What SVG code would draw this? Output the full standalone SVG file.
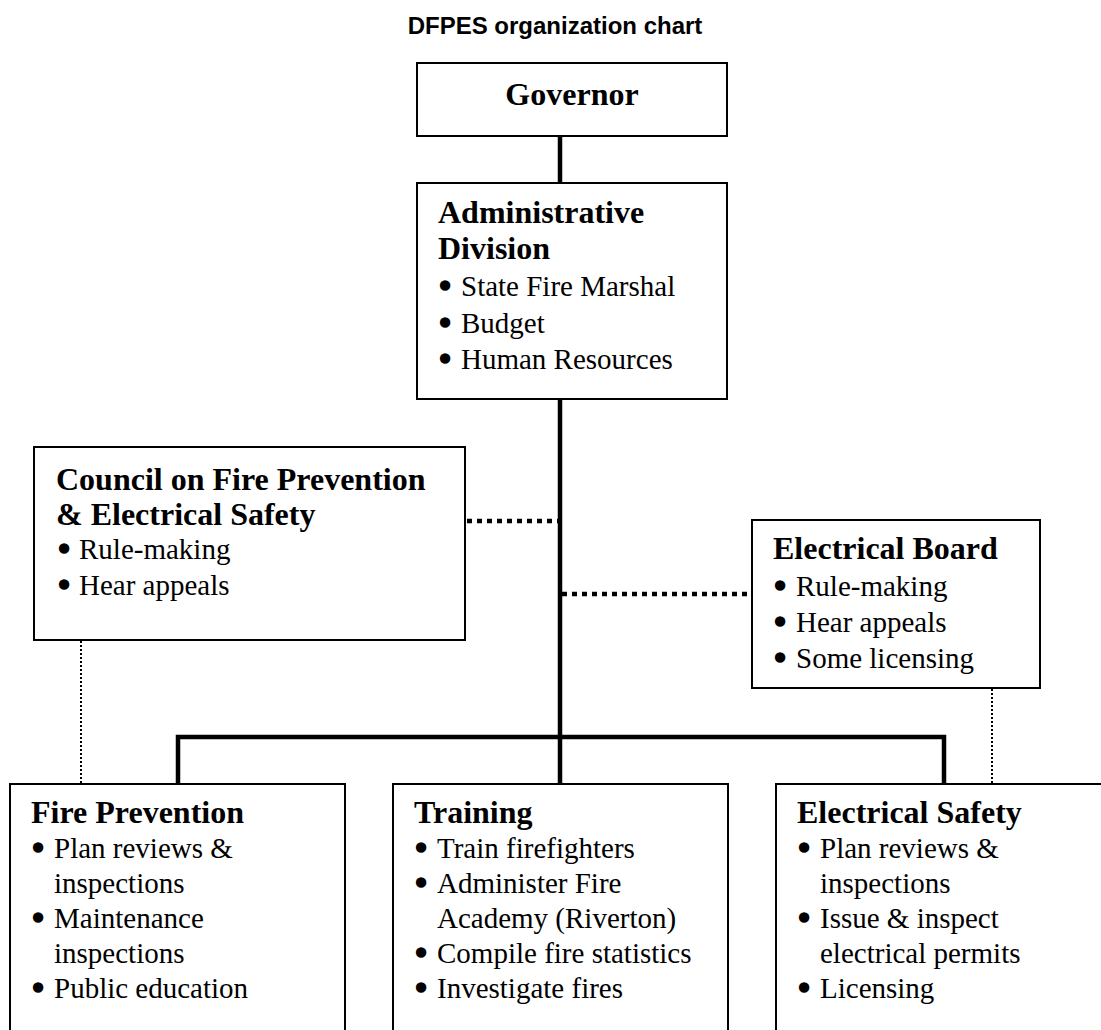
<svg xmlns="http://www.w3.org/2000/svg" width="1101" height="1030" viewBox="0 0 1101 1030">
<style>
.box{fill:#fff;stroke:#000;stroke-width:2}
.h{font-family:"Liberation Serif","Times New Roman",serif;font-weight:bold;font-size:32px;fill:#000}
.t{font-family:"Liberation Serif","Times New Roman",serif;font-size:29px;fill:#000}
.b{stroke:#000;stroke-width:3.5;stroke-linejoin:round}
.solid{stroke:#000;stroke-width:4.5;fill:none}
.dot{stroke:#000;stroke-width:4.5;stroke-dasharray:5 5;fill:none}
.thin{stroke:#000;stroke-width:2;stroke-dasharray:2 2;fill:none}
.title{font-family:"Liberation Sans",Arial,sans-serif;font-weight:bold;font-size:24px;fill:#000}
</style>
<rect width="1101" height="1030" fill="#fff"/>
<text class="title" x="555" y="34" text-anchor="middle">DFPES organization chart</text>
<g id="connectors">
<line class="solid" x1="560" y1="136" x2="560" y2="183"/>
<line class="solid" x1="560" y1="399" x2="560" y2="784"/>
<polyline class="solid" points="178,784 178,737 944,737 944,784"/>
<line class="dot" x1="467" y1="521" x2="558" y2="521"/>
<line class="dot" x1="562" y1="594" x2="751" y2="594"/>
<line class="thin" x1="81" y1="641" x2="81" y2="784"/>
<line class="thin" x1="992" y1="689" x2="992" y2="784"/>
</g>
<g id="governor">
<rect class="box" x="417" y="63" width="310" height="73"/>
<text class="h" x="572" y="105" text-anchor="middle">Governor</text>
</g>
<g id="admin">
<rect class="box" x="417" y="183" width="310" height="216"/>
<text class="h" x="438" y="223">Administrative</text>
<text class="h" x="438" y="259">Division</text>
<text class="t" x="440" y="296"><tspan class="b">•</tspan><tspan x="461">State Fire Marshal</tspan></text>
<text class="t" x="440" y="333"><tspan class="b">•</tspan><tspan x="461">Budget</tspan></text>
<text class="t" x="440" y="369"><tspan class="b">•</tspan><tspan x="461">Human Resources</tspan></text>
</g>
<g id="council">
<rect class="box" x="34" y="447" width="431" height="193"/>
<text class="h" x="56" y="490">Council on Fire Prevention</text>
<text class="h" x="56" y="525">&amp; Electrical Safety</text>
<text class="t" x="59" y="559"><tspan class="b">•</tspan><tspan x="79">Rule-making</tspan></text>
<text class="t" x="59" y="595"><tspan class="b">•</tspan><tspan x="79">Hear appeals</tspan></text>
</g>
<g id="board">
<rect class="box" x="752" y="520" width="288" height="168"/>
<text class="h" x="773" y="559">Electrical Board</text>
<text class="t" x="775" y="596"><tspan class="b">•</tspan><tspan x="796">Rule-making</tspan></text>
<text class="t" x="775" y="632"><tspan class="b">•</tspan><tspan x="796">Hear appeals</tspan></text>
<text class="t" x="775" y="668"><tspan class="b">•</tspan><tspan x="796">Some licensing</tspan></text>
</g>
<g id="fireprev">
<rect class="box" x="10" y="784" width="335" height="260"/>
<text class="h" x="31" y="823">Fire Prevention</text>
<text class="t" x="33" y="858"><tspan class="b">•</tspan><tspan x="54">Plan reviews &amp;</tspan></text>
<text class="t" x="54" y="893">inspections</text>
<text class="t" x="33" y="928"><tspan class="b">•</tspan><tspan x="54">Maintenance</tspan></text>
<text class="t" x="54" y="963">inspections</text>
<text class="t" x="33" y="998"><tspan class="b">•</tspan><tspan x="54">Public education</tspan></text>
</g>
<g id="training">
<rect class="box" x="393" y="784" width="335" height="260"/>
<text class="h" x="414" y="823">Training</text>
<text class="t" x="416" y="858"><tspan class="b">•</tspan><tspan x="437">Train firefighters</tspan></text>
<text class="t" x="416" y="893"><tspan class="b">•</tspan><tspan x="437">Administer Fire</tspan></text>
<text class="t" x="437" y="928">Academy (Riverton)</text>
<text class="t" x="416" y="963"><tspan class="b">•</tspan><tspan x="437">Compile fire statistics</tspan></text>
<text class="t" x="416" y="998"><tspan class="b">•</tspan><tspan x="437">Investigate fires</tspan></text>
</g>
<g id="elecsafety">
<rect class="box" x="776" y="784" width="345" height="260"/>
<text class="h" x="797" y="823">Electrical Safety</text>
<text class="t" x="799" y="858"><tspan class="b">•</tspan><tspan x="820">Plan reviews &amp;</tspan></text>
<text class="t" x="820" y="893">inspections</text>
<text class="t" x="799" y="928"><tspan class="b">•</tspan><tspan x="820">Issue &amp; inspect</tspan></text>
<text class="t" x="820" y="963">electrical permits</text>
<text class="t" x="799" y="998"><tspan class="b">•</tspan><tspan x="820">Licensing</tspan></text>
</g>
</svg>
